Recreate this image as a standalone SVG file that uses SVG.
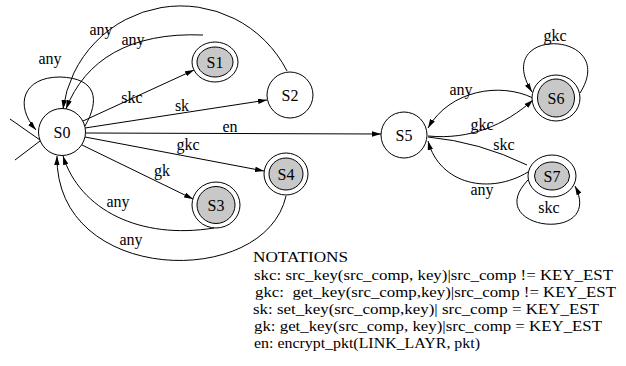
<svg xmlns="http://www.w3.org/2000/svg" width="626" height="366" viewBox="0 0 626 366" font-family="'Liberation Serif', 'Times New Roman', Times, 'DejaVu Serif', serif">
  <style>
    .edge { fill: none; stroke: #000; stroke-width: 1; }
    .arr { marker-end: url(#head); }
    .ring { fill: #fff; stroke: #000; stroke-width: 1; }
    .core { fill: #c8c8c8; stroke: #000; stroke-width: 1; }
    .name, .lbl, .note { fill: #000; }
    .name { font-size: 16px; text-anchor: middle; }
    .lbl { font-size: 16px; text-anchor: middle; }
    .note { font-size: 15px; white-space: pre; }
  </style>
  <defs>
    <marker id="head" viewBox="0 0 10 6" refX="10" refY="3" markerWidth="9" markerHeight="5.4" markerUnits="userSpaceOnUse" orient="auto">
      <path d="M0,0 L10,3 L0,6 Z" fill="#000"/>
    </marker>
  </defs>
  <rect width="626" height="366" fill="#fff"/>

  <g id="connectors">
    <!-- initial marker at S0 -->
    <path class="edge" d="M10 119 L40 140 M15 160 L40 141"/>
    <!-- S0 self loop -->
    <path class="edge arr" d="M85 126 C100 100, 97 78, 60 77 C23 77, 14 105, 36 130"/>
    <!-- S2 -> S0 -->
    <path class="edge arr" d="M287 71 A119 119 0 0 0 63 109"/>
    <!-- S1 -> S0 -->
    <path class="edge arr" d="M203 35 C130 32, 85 60, 66 109"/>
    <!-- S0 -> S1 -->
    <path class="edge arr" d="M83 121 L194 70"/>
    <!-- S0 -> S2 -->
    <path class="edge arr" d="M85 128 L267 100"/>
    <!-- S0 -> S5 -->
    <path class="edge arr" d="M86 133 L381 134"/>
    <!-- S0 -> S4 -->
    <path class="edge arr" d="M85 137 L264 171"/>
    <!-- S0 -> S3 -->
    <path class="edge arr" d="M82 145 L193 199"/>
    <!-- S3 -> S0 -->
    <path class="edge arr" d="M214 228 C140 240, 80 210, 63 156"/>
    <!-- S4 -> S0 -->
    <path class="edge arr" d="M286 196 C265 290, 55 285, 57 156"/>
    <!-- S6 -> S5 -->
    <path class="edge arr" d="M533 98 C500 82, 450 90, 428 128"/>
    <!-- S5 -> S6 -->
    <path class="edge arr" d="M428 136 C470 140, 505 125, 533 100"/>
    <!-- S5 -> S7 -->
    <path class="edge" d="M428 137 Q480 142 527 165"/>
    <!-- S7 -> S5 -->
    <path class="edge arr" d="M528 172 C490 195, 440 185, 428 141"/>
    <!-- S6 self loop -->
    <path class="edge arr" d="M580 93 C620 30, 490 25, 532 92"/>
    <!-- S7 self loop -->
    <path class="edge arr" d="M528 180 C480 230, 605 245, 575 186"/>

    <text class="lbl" x="50" y="64">any</text>
    <text class="lbl" x="101" y="35">any</text>
    <text class="lbl" x="133" y="45">any</text>
    <text class="lbl" x="132" y="103">skc</text>
    <text class="lbl" x="182" y="111">sk</text>
    <text class="lbl" x="230" y="132">en</text>
    <text class="lbl" x="188" y="150">gkc</text>
    <text class="lbl" x="162" y="176">gk</text>
    <text class="lbl" x="118" y="207">any</text>
    <text class="lbl" x="131" y="245">any</text>
    <text class="lbl" x="461" y="95">any</text>
    <text class="lbl" x="482" y="130">gkc</text>
    <text class="lbl" x="504" y="150">skc</text>
    <text class="lbl" x="482" y="195">any</text>
    <text class="lbl" x="555" y="41">gkc</text>
    <text class="lbl" x="549" y="213">skc</text>
  </g>

  <g id="S0">
    <circle class="ring" cx="62" cy="132" r="23.5"/>
    <text class="name" x="62" y="138">S0</text>
  </g>
  <g id="S1">
    <ellipse class="ring" cx="215" cy="62" rx="23" ry="20"/>
    <ellipse class="core" cx="215" cy="62" rx="18" ry="15"/>
    <text class="name" x="215" y="68">S1</text>
  </g>
  <g id="S2">
    <circle class="ring" cx="290" cy="95" r="23"/>
    <text class="name" x="290" y="101">S2</text>
  </g>
  <g id="S3">
    <ellipse class="ring" cx="216" cy="205" rx="24" ry="23"/>
    <ellipse class="core" cx="216" cy="205" rx="19" ry="18.5"/>
    <text class="name" x="216" y="211">S3</text>
  </g>
  <g id="S4">
    <ellipse class="ring" cx="286" cy="174" rx="22" ry="21"/>
    <ellipse class="core" cx="286" cy="174" rx="17" ry="16"/>
    <text class="name" x="286" y="180">S4</text>
  </g>
  <g id="S5">
    <circle class="ring" cx="404" cy="135" r="23"/>
    <text class="name" x="404" y="141">S5</text>
  </g>
  <g id="S6">
    <ellipse class="ring" cx="556" cy="98" rx="24" ry="23"/>
    <ellipse class="core" cx="556" cy="98" rx="18.5" ry="19"/>
    <text class="name" x="556" y="104">S6</text>
  </g>
  <g id="S7">
    <ellipse class="ring" cx="552" cy="176" rx="24" ry="21"/>
    <ellipse class="core" cx="552" cy="176" rx="17.5" ry="14"/>
    <text class="name" x="552" y="182">S7</text>
  </g>

  <g id="notations">
    <text class="note" x="253" y="262" textLength="95" lengthAdjust="spacingAndGlyphs">NOTATIONS</text>
    <text class="note" x="254" y="280" textLength="359" lengthAdjust="spacingAndGlyphs">skc: src_key(src_comp, key)|src_comp != KEY_EST</text>
    <text class="note" x="255" y="297" textLength="361" lengthAdjust="spacingAndGlyphs" xml:space="preserve">gkc:  get_key(src_comp,key)|src_comp != KEY_EST</text>
    <text class="note" x="253" y="314" textLength="346" lengthAdjust="spacingAndGlyphs">sk: set_key(src_comp,key)| src_comp = KEY_EST</text>
    <text class="note" x="254" y="331" textLength="348" lengthAdjust="spacingAndGlyphs">gk: get_key(src_comp, key)|src_comp = KEY_EST</text>
    <text class="note" x="254" y="348" textLength="226" lengthAdjust="spacingAndGlyphs">en: encrypt_pkt(LINK_LAYR, pkt)</text>
  </g>
</svg>
